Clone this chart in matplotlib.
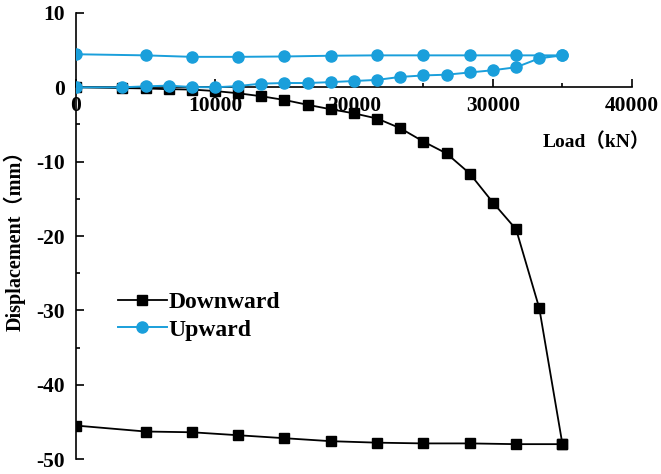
import matplotlib
matplotlib.use("Agg")
import matplotlib.pyplot as plt
from matplotlib.ticker import MultipleLocator

# Load steps (kN) for the loading and unloading branches
load_loading = [0, 3333, 5000, 6667, 8333, 10000, 11667, 13333, 15000, 16667,
                18333, 20000, 21667, 23333, 25000, 26667, 28333, 30000, 31667,
                33333, 35000]
load_unloading = [35000, 31667, 28333, 25000, 21667, 18333, 15000, 11667,
                  8333, 5000, 0]

# Displacement (mm)
down_loading = [0, -0.1, -0.15, -0.25, -0.3, -0.5, -0.8, -1.2, -1.7, -2.35,
                -2.95, -3.5, -4.2, -5.5, -7.3, -8.9, -11.6, -15.5, -19.1,
                -29.7, -48.0]
down_unloading = [-48.0, -48.0, -47.9, -47.9, -47.8, -47.6, -47.2, -46.8,
                  -46.4, -46.3, -45.5]
up_loading = [0, 0, 0.13, 0.23, 0.04, 0, 0.17, 0.5, 0.58, 0.58, 0.7, 0.85,
              1.0, 1.4, 1.6, 1.7, 2.0, 2.3, 2.7, 3.9, 4.3]
up_unloading = [4.3, 4.3, 4.3, 4.3, 4.3, 4.25, 4.15, 4.1, 4.1, 4.3, 4.45]

series_names = ["Downward", "Upward"]

serif = ["Liberation Serif", "Noto Sans CJK SC"]
plt.rcParams["font.family"] = serif
plt.rcParams["font.weight"] = "bold"
plt.rcParams["axes.unicode_minus"] = False

fig = plt.figure(figsize=(6.61, 4.74), dpi=100)
ax = fig.add_axes([0.115, 0.0316, 0.841, 0.941])

blue = "#1a9fdb"
ax.plot(load_loading + load_unloading, down_loading + down_unloading,
        color="black", lw=1.3, marker="s", ms=7, mec="black", mfc="black",
        label=series_names[0], zorder=3)
ax.plot(load_loading + load_unloading, up_loading + up_unloading,
        color=blue, lw=1.4, marker="o", ms=8, mec=blue, mfc=blue,
        label=series_names[1], zorder=3)

ax.set_xlim(0, 40000)
ax.set_ylim(-50, 10)

ax.spines["top"].set_visible(False)
ax.spines["right"].set_visible(False)
ax.spines["bottom"].set_position(("data", 0))
for s in ("left", "bottom"):
    ax.spines[s].set_linewidth(1.2)

ax.xaxis.set_major_locator(MultipleLocator(10000))
ax.xaxis.set_minor_locator(MultipleLocator(5000))
ax.yaxis.set_major_locator(MultipleLocator(10))
ax.yaxis.set_minor_locator(MultipleLocator(5))

ax.tick_params(which="both", direction="in", width=1.2)
ax.tick_params(which="major", length=6)
ax.tick_params(which="minor", length=3)
ax.tick_params(axis="x", which="major", labelsize=15.5, pad=6)
ax.tick_params(axis="y", which="major", labelsize=15.5, pad=8)
for lab in ax.get_xticklabels() + ax.get_yticklabels():
    lab.set_fontweight("bold")

ax.set_ylabel("Displacement（mm）", fontsize=14.5, fontweight="bold")
ax.yaxis.set_label_coords(-0.09, 0.5)
ax.text(0.936, 0.711, "Load（kN）", transform=ax.transAxes, fontsize=14,
        fontweight="bold", ha="center", va="center")

leg = ax.legend(loc="upper left", bbox_to_anchor=(0.075, 0.375), frameon=False,
                fontsize=17, handlelength=2.1, handletextpad=0.05,
                labelspacing=0.25, borderpad=0, borderaxespad=0)
for t in leg.get_texts():
    t.set_fontweight("bold")

fig.savefig("out.png", dpi=100, facecolor="white")
